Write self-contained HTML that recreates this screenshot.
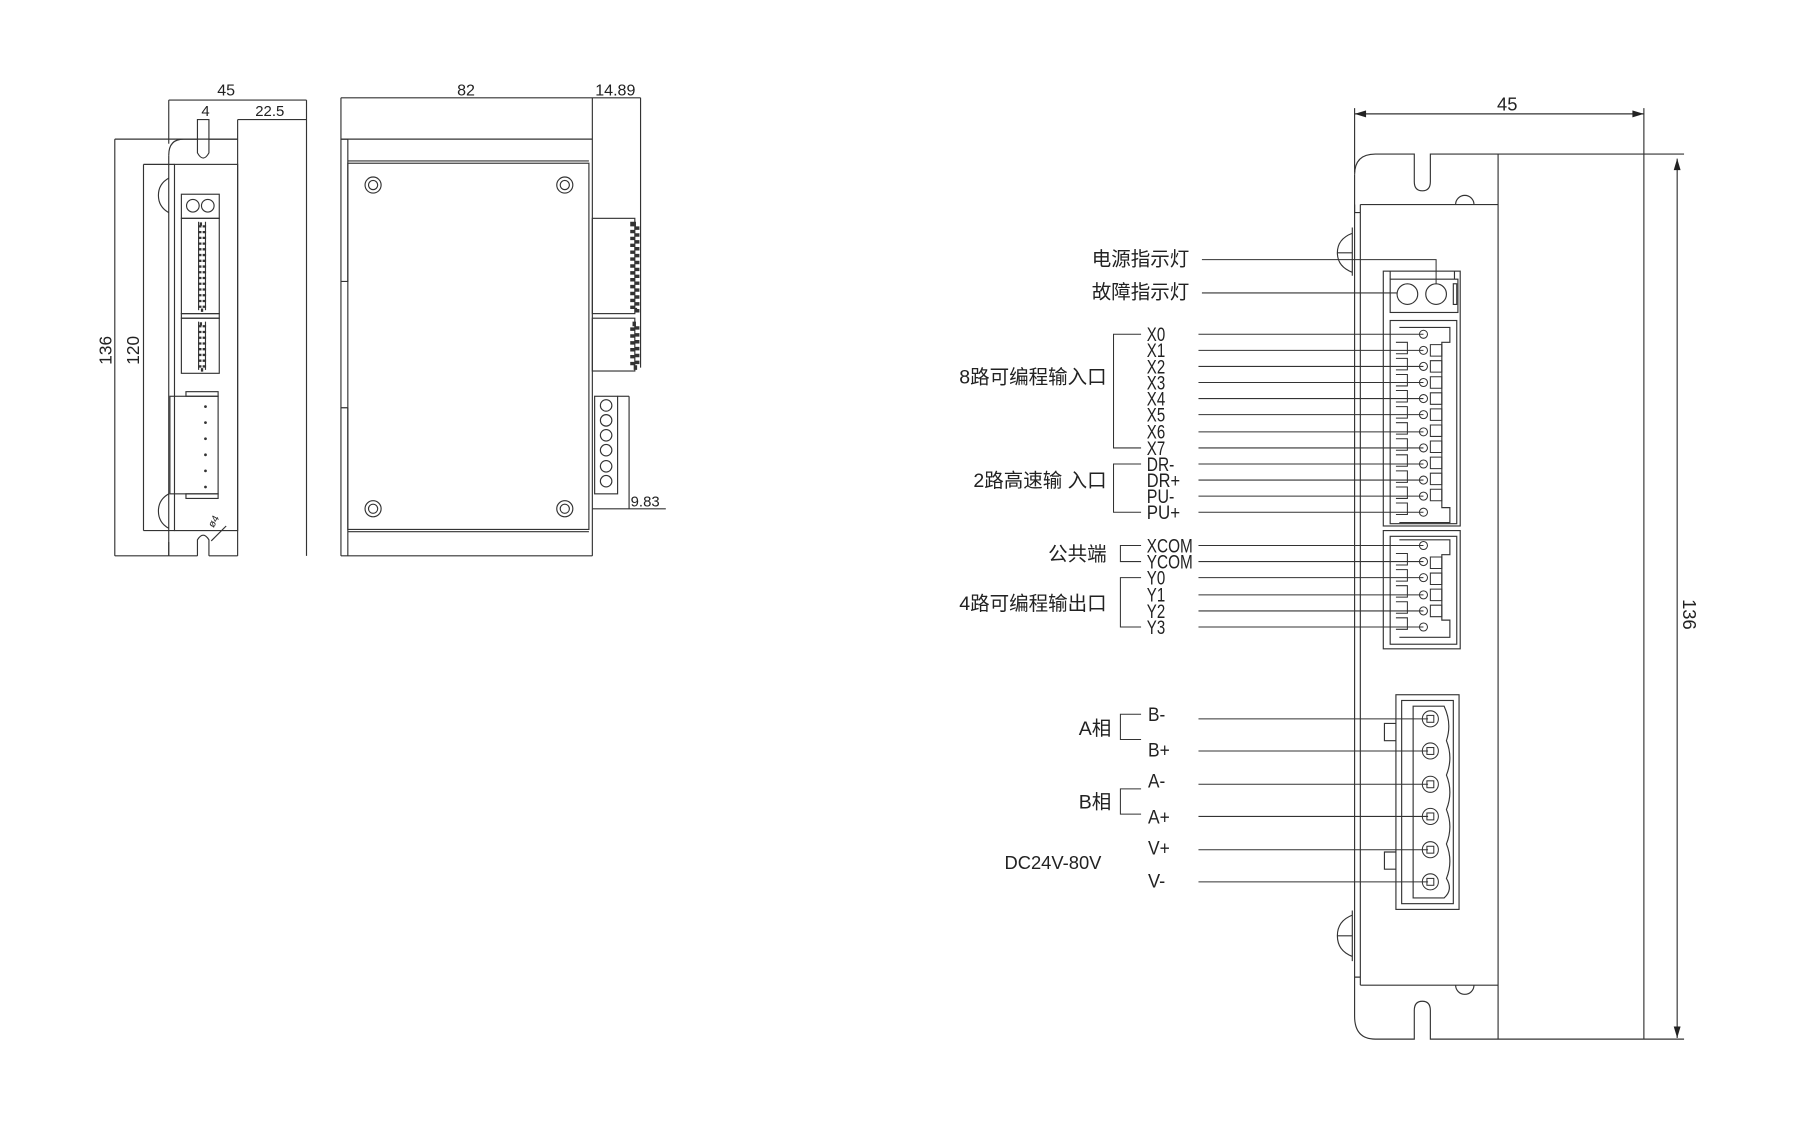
<!DOCTYPE html>
<html><head><meta charset="utf-8"><style>
html,body{margin:0;padding:0;background:#fff;}
svg{display:block;}
text{font-family:"Liberation Sans","Noto Sans CJK SC",sans-serif;fill:#222;}
.l{fill:none;stroke:#333;stroke-width:1;}
.t{stroke:#333;stroke-width:0.9;fill:none;}
.pl{font-size:17px;}
.cn{font-size:17px;}
</style></head><body>
<svg width="1800" height="1122" viewBox="0 0 1568 977" xmlns="http://www.w3.org/2000/svg">
<defs>
<marker id="a" viewBox="0 0 10 6" refX="10" refY="3" markerWidth="18" markerHeight="6" markerUnits="userSpaceOnUse" orient="auto-start-reverse"><path d="M0,0 L10,3 L0,6z" fill="#222"/></marker>
</defs>

<g class="l">
<line x1="147" y1="87" x2="267" y2="87"/>
<line x1="147" y1="87" x2="147" y2="125"/>
<line x1="267" y1="87" x2="267" y2="484"/>
<line x1="207" y1="104" x2="267" y2="104"/>
<line x1="207" y1="104" x2="207" y2="484"/>
<line x1="100" y1="121" x2="100" y2="484"/>
<line x1="100" y1="121" x2="207" y2="121"/>
<line x1="100" y1="484" x2="147" y2="484"/>
<line x1="125" y1="143" x2="125" y2="462"/>
<line x1="125" y1="143" x2="152" y2="143"/>
<line x1="125" y1="462" x2="152" y2="462"/>
<path d="M147,484 L147,472 M147,135 Q147,121 160,121 L172,121 M182,121 L207,121"/>
<path d="M172,104 L172,133 Q177,142 182,133 L182,104 Z"/>
<path d="M147,135 L147,484 M172,484 L172,470 Q177,462 182,470 L182,484 M147,484 L172,484 M182,484 L207,484"/>
<rect x="152" y="143" width="55" height="319"/>
<path d="M147,155 Q138,160 138,170 Q138,180 147,185"/>
<path d="M147,430 Q138,435 138,445 Q138,455 147,460"/>
<rect x="158" y="169" width="33" height="21"/>
<circle cx="168" cy="179" r="5.5"/><circle cx="181" cy="179" r="5.5"/>
<rect x="158" y="190" width="33" height="83"/>
<rect x="158" y="273" width="33" height="4"/>
<rect x="158" y="277" width="33" height="48"/>
<line x1="173" y1="193" x2="173" y2="270"/><line x1="179" y1="193" x2="179" y2="270"/>
<line x1="173" y1="280" x2="173" y2="322"/><line x1="179" y1="280" x2="179" y2="322"/>
<rect x="148" y="345" width="42" height="85"/>
<rect x="162" y="341" width="28" height="4"/>
<rect x="162" y="430" width="28" height="4"/>
<path d="M184,471 L197,458"/>
</g>
<g fill="#333">
<rect x="174" y="195" width="4" height="75" fill="none" stroke="#333" stroke-dasharray="2,3" stroke-width="3"/>
<rect x="174" y="282" width="4" height="40" fill="none" stroke="#333" stroke-dasharray="2,3" stroke-width="3"/>
<circle cx="179" cy="354" r="1.2"/><circle cx="179" cy="368" r="1.2"/><circle cx="179" cy="382" r="1.2"/><circle cx="179" cy="396" r="1.2"/><circle cx="179" cy="410" r="1.2"/><circle cx="179" cy="424" r="1.2"/>
</g>
<text x="197" y="83" font-size="14" text-anchor="middle">45</text>
<text x="179" y="101" font-size="13" text-anchor="middle">4</text>
<text x="235" y="101" font-size="13" text-anchor="middle">22.5</text>
<text x="0" y="0" font-size="15" text-anchor="middle" transform="translate(97,305) rotate(-90)">136</text>
<text x="0" y="0" font-size="15" text-anchor="middle" transform="translate(121,305) rotate(-90)">120</text>
<text x="0" y="0" font-size="9" transform="translate(186,460) rotate(-60)">ø4</text>

<g class="l">
<line x1="297" y1="85" x2="558" y2="85"/>
<line x1="297" y1="85" x2="297" y2="484"/>
<line x1="558" y1="85" x2="558" y2="320"/>
<line x1="516" y1="85" x2="516" y2="484"/>
<line x1="297" y1="121" x2="516" y2="121"/>
<line x1="297" y1="484" x2="516" y2="484"/>
<rect x="303" y="142" width="210" height="319"/>
<line x1="303" y1="140" x2="513" y2="140"/>
<line x1="303" y1="463" x2="513" y2="463"/>
<path d="M297,121 L303,121 M303,121 L303,245 L297,245 M303,355 L297,355 M303,355 L303,484"/>
<circle cx="325" cy="161" r="7"/><circle cx="325" cy="161" r="4"/>
<circle cx="492" cy="161" r="7"/><circle cx="492" cy="161" r="4"/>
<circle cx="325" cy="443" r="7"/><circle cx="325" cy="443" r="4"/>
<circle cx="492" cy="443" r="7"/><circle cx="492" cy="443" r="4"/>
<rect x="516" y="190" width="37" height="83"/>
<rect x="516" y="277" width="37" height="46"/>
<rect x="518" y="345" width="20" height="85"/>
<line x1="538" y1="345" x2="548" y2="345"/>
<line x1="548" y1="345" x2="548" y2="443"/>
<line x1="516" y1="443" x2="580" y2="443"/>
<circle cx="528" cy="353" r="5"/><circle cx="528" cy="366" r="5"/><circle cx="528" cy="379" r="5"/><circle cx="528" cy="392" r="5"/><circle cx="528" cy="406" r="5"/><circle cx="528" cy="419" r="5"/>
</g>
<rect x="551" y="195" width="4" height="75" fill="none" stroke="#333" stroke-dasharray="3,3" stroke-width="4"/>
<rect x="551" y="282" width="4" height="38" fill="none" stroke="#333" stroke-dasharray="3,3" stroke-width="4"/>
<text x="406" y="83" font-size="14" text-anchor="middle">82</text>
<text x="536" y="83" font-size="14" text-anchor="middle">14.89</text>
<text x="562" y="441" font-size="13" text-anchor="middle">9.83</text>

<g class="l">
<line x1="1180" y1="99" x2="1432" y2="99" marker-start="url(#a)" marker-end="url(#a)"/>
<line x1="1180" y1="94" x2="1180" y2="150"/>
<line x1="1432" y1="94" x2="1432" y2="905"/>
<line x1="1461" y1="138" x2="1461" y2="904" marker-start="url(#a)" marker-end="url(#a)"/>
<path d="M1180,152 Q1180,134 1198,134 L1232,134 L1232,158 Q1232,166 1239,166 Q1246,166 1246,158 L1246,134 L1467,134"/>
<path d="M1180,152 L1180,885 Q1180,905 1198,905 L1232,905 L1232,880 Q1232,872 1239,872 Q1246,872 1246,880 L1246,905 L1467,905"/>
<line x1="1305" y1="134" x2="1305" y2="905"/>
<line x1="1185" y1="178" x2="1305" y2="178"/>
<line x1="1185" y1="178" x2="1185" y2="858"/>
<line x1="1185" y1="858" x2="1305" y2="858"/>
<path d="M1180,178 L1180,185 L1185,185 M1180,851 L1185,851"/>
<path d="M1268,178 A8,8 0 0 1 1284,178 M1268,858 A8,8 0 0 0 1284,858"/>
<path d="M1178,198 L1178,240 M1178,203 Q1165,208 1165,220 Q1165,232 1178,237 M1165,220 L1178,220"/>
<path d="M1178,793 L1178,837 M1178,797 Q1165,802 1165,815 Q1165,828 1178,833 M1165,815 L1178,815"/>
<rect x="1205" y="236" width="67" height="222"/>
<rect x="1211" y="243" width="59" height="29"/>
<circle cx="1226" cy="256" r="9"/><circle cx="1251" cy="256" r="9"/>
<rect x="1266" y="247" width="3" height="18"/>
<line x1="1211" y1="236" x2="1211" y2="243"/><line x1="1267" y1="236" x2="1267" y2="243"/>
<rect x="1211" y="279" width="58" height="177"/>
<path d="M1219,285 L1263,285 L1263,298 L1256,298 L1256,442 L1263,442 L1263,455 L1219,455"/>
<rect x="1205" y="462" width="67" height="103"/>
<rect x="1211" y="467" width="58" height="94"/>
<path d="M1219,470 L1263,470 L1263,483 L1256,483 L1256,540 L1263,540 L1263,555 L1219,555"/>
<rect x="1216" y="605" width="55" height="187"/>
<rect x="1221" y="610" width="45" height="177"/>
<path d="M1231,615 L1258,615 Q1265,630 1260,645 Q1266,660 1260,675 Q1266,690 1260,705 Q1266,720 1260,735 Q1266,750 1260,765 Q1266,775 1258,782 L1231,782 Z"/>
<path d="M1216,630 L1206,630 L1206,645 L1216,645 M1216,742 L1206,742 L1206,757 L1216,757"/>
</g>

<g class="t">
<path d="M1047,226 L1251,226 L1251,247"/>
<line x1="1047" y1="255" x2="1217" y2="255"/>
<line x1="1044" y1="291" x2="1240" y2="291"/><line x1="1044" y1="305" x2="1240" y2="305"/>
<line x1="1044" y1="319" x2="1240" y2="319"/><line x1="1044" y1="333" x2="1240" y2="333"/>
<line x1="1044" y1="347" x2="1240" y2="347"/><line x1="1044" y1="361" x2="1240" y2="361"/>
<line x1="1044" y1="376" x2="1240" y2="376"/><line x1="1044" y1="390" x2="1240" y2="390"/>
<line x1="1044" y1="404" x2="1240" y2="404"/><line x1="1044" y1="418" x2="1240" y2="418"/>
<line x1="1044" y1="432" x2="1240" y2="432"/><line x1="1044" y1="446" x2="1240" y2="446"/>
<line x1="1044" y1="475" x2="1240" y2="475"/><line x1="1044" y1="489" x2="1240" y2="489"/>
<line x1="1044" y1="503" x2="1240" y2="503"/><line x1="1044" y1="518" x2="1240" y2="518"/>
<line x1="1044" y1="532" x2="1240" y2="532"/><line x1="1044" y1="546" x2="1240" y2="546"/>
<line x1="1044" y1="626" x2="1244" y2="626"/><line x1="1044" y1="654" x2="1244" y2="654"/>
<line x1="1044" y1="683" x2="1244" y2="683"/><line x1="1044" y1="711" x2="1244" y2="711"/>
<line x1="1044" y1="740" x2="1244" y2="740"/><line x1="1044" y1="768" x2="1244" y2="768"/>
<path d="M994,291 L970,291 L970,390 L994,390"/>
<path d="M994,404 L970,404 L970,446 L994,446"/>
<path d="M994,475 L976,475 L976,489 L994,489"/>
<path d="M994,503 L976,503 L976,546 L994,546"/>
<path d="M994,622 L976,622 L976,644 L994,644"/>
<path d="M994,687 L976,687 L976,709 L994,709"/>
</g>
<g class="t">
<circle cx="1240" cy="291" r="3.5"/><circle cx="1240" cy="305" r="3.5"/><circle cx="1240" cy="319" r="3.5"/><circle cx="1240" cy="333" r="3.5"/>
<circle cx="1240" cy="347" r="3.5"/><circle cx="1240" cy="361" r="3.5"/><circle cx="1240" cy="376" r="3.5"/><circle cx="1240" cy="390" r="3.5"/>
<circle cx="1240" cy="404" r="3.5"/><circle cx="1240" cy="418" r="3.5"/><circle cx="1240" cy="432" r="3.5"/><circle cx="1240" cy="446" r="3.5"/>
<circle cx="1240" cy="475" r="3.5"/><circle cx="1240" cy="489" r="3.5"/><circle cx="1240" cy="503" r="3.5"/><circle cx="1240" cy="518" r="3.5"/>
<circle cx="1240" cy="532" r="3.5"/><circle cx="1240" cy="546" r="3.5"/>
<circle cx="1246" cy="626" r="7"/><circle cx="1246" cy="654" r="7"/><circle cx="1246" cy="683" r="7"/>
<circle cx="1246" cy="711" r="7"/><circle cx="1246" cy="740" r="7"/><circle cx="1246" cy="768" r="7"/>
<rect x="1243" y="623" width="6" height="6"/><rect x="1243" y="651" width="6" height="6"/><rect x="1243" y="680" width="6" height="6"/>
<rect x="1243" y="708" width="6" height="6"/><rect x="1243" y="737" width="6" height="6"/><rect x="1243" y="765" width="6" height="6"/>
<path d="M1216,298 h10 v10 h-10 M1216,312 h10 v10 h-10 M1216,326 h10 v10 h-10 M1216,340 h10 v10 h-10 M1216,354 h10 v10 h-10 M1216,368 h10 v10 h-10 M1216,382 h10 v10 h-10 M1216,396 h10 v10 h-10 M1216,410 h10 v10 h-10 M1216,424 h10 v10 h-10 M1216,438 h10 v10 h-10"/>
<path d="M1246,300 h10 v10 h-10z M1246,314 h10 v10 h-10z M1246,328 h10 v10 h-10z M1246,342 h10 v10 h-10z M1246,356 h10 v10 h-10z M1246,370 h10 v10 h-10z M1246,384 h10 v10 h-10z M1246,398 h10 v10 h-10z M1246,412 h10 v10 h-10z M1246,426 h10 v10 h-10z"/>
<path d="M1216,482 h10 v10 h-10 M1216,496 h10 v10 h-10 M1216,510 h10 v10 h-10 M1216,524 h10 v10 h-10 M1216,538 h10 v10 h-10"/>
<path d="M1246,485 h10 v10 h-10z M1246,499 h10 v10 h-10z M1246,513 h10 v10 h-10z M1246,527 h10 v10 h-10z"/>
</g>

<text x="1313" y="96" font-size="16" text-anchor="middle">45</text>
<text x="0" y="0" font-size="16" text-anchor="middle" transform="translate(1466,535) rotate(90)">136</text>
<g class="cn" text-anchor="end">
<text x="1036" y="231">电源指示灯</text>
<text x="1036" y="260">故障指示灯</text>
<text x="964" y="334">8路可编程输入口</text>
<text x="964" y="424">2路高速输 入口</text>
<text x="964" y="488">公共端</text>
<text x="964" y="531">4路可编程输出口</text>
<text x="968" y="640">A相</text>
<text x="968" y="704">B相</text>
</g>
<text x="875" y="757" font-size="16">DC24V-80V</text>
<g class="pl">
<text x="999" y="297" textLength="16" lengthAdjust="spacingAndGlyphs">X0</text>
<text x="999" y="311" textLength="16" lengthAdjust="spacingAndGlyphs">X1</text>
<text x="999" y="325" textLength="16" lengthAdjust="spacingAndGlyphs">X2</text>
<text x="999" y="339" textLength="16" lengthAdjust="spacingAndGlyphs">X3</text>
<text x="999" y="353" textLength="16" lengthAdjust="spacingAndGlyphs">X4</text>
<text x="999" y="367" textLength="16" lengthAdjust="spacingAndGlyphs">X5</text>
<text x="999" y="382" textLength="16" lengthAdjust="spacingAndGlyphs">X6</text>
<text x="999" y="396" textLength="16" lengthAdjust="spacingAndGlyphs">X7</text>
<text x="999" y="410" textLength="24" lengthAdjust="spacingAndGlyphs">DR-</text>
<text x="999" y="424" textLength="29" lengthAdjust="spacingAndGlyphs">DR+</text>
<text x="999" y="438" textLength="24" lengthAdjust="spacingAndGlyphs">PU-</text>
<text x="999" y="452" textLength="29" lengthAdjust="spacingAndGlyphs">PU+</text>
<text x="999" y="481" textLength="40" lengthAdjust="spacingAndGlyphs">XCOM</text>
<text x="999" y="495" textLength="40" lengthAdjust="spacingAndGlyphs">YCOM</text>
<text x="999" y="509" textLength="16" lengthAdjust="spacingAndGlyphs">Y0</text>
<text x="999" y="524" textLength="16" lengthAdjust="spacingAndGlyphs">Y1</text>
<text x="999" y="538" textLength="16" lengthAdjust="spacingAndGlyphs">Y2</text>
<text x="999" y="552" textLength="16" lengthAdjust="spacingAndGlyphs">Y3</text>
<text x="1000" y="628" textLength="15" lengthAdjust="spacingAndGlyphs">B-</text>
<text x="1000" y="659" textLength="19" lengthAdjust="spacingAndGlyphs">B+</text>
<text x="1000" y="686" textLength="15" lengthAdjust="spacingAndGlyphs">A-</text>
<text x="1000" y="717" textLength="19" lengthAdjust="spacingAndGlyphs">A+</text>
<text x="1000" y="744" textLength="19" lengthAdjust="spacingAndGlyphs">V+</text>
<text x="1000" y="773" textLength="15" lengthAdjust="spacingAndGlyphs">V-</text>
</g>
</svg>
</body></html>
